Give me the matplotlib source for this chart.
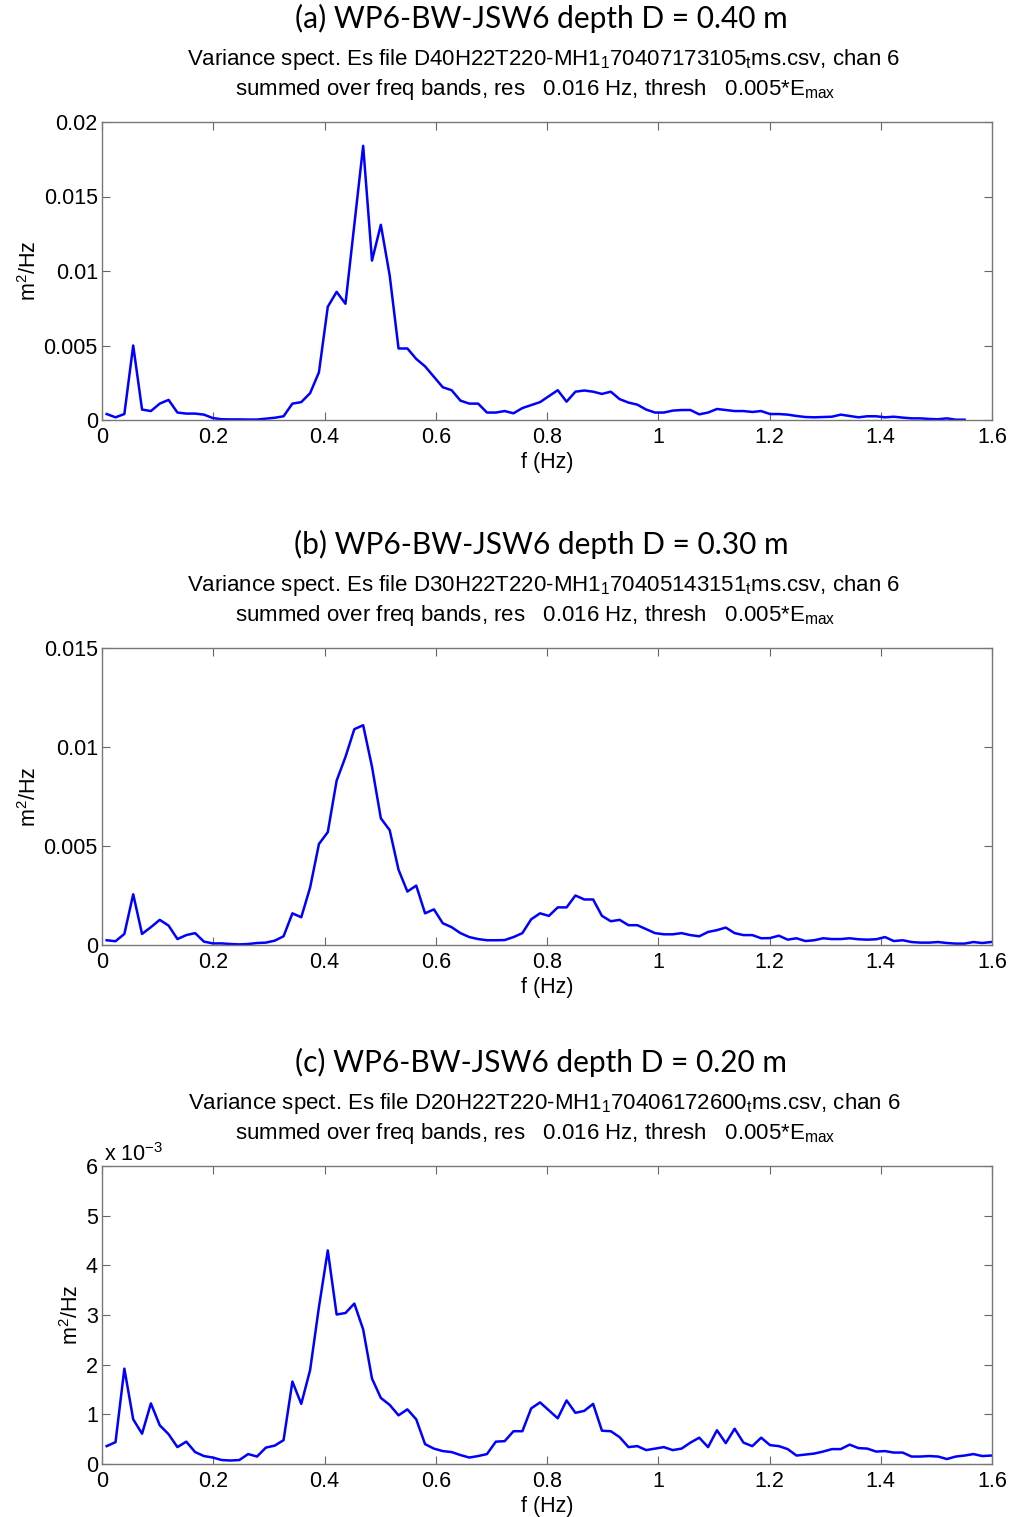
import numpy as np
import matplotlib
matplotlib.use("Agg")
import matplotlib.pyplot as plt
from matplotlib.ticker import FuncFormatter

plt.rcParams['font.family'] = ['Liberation Sans', 'DejaVu Sans']
plt.rcParams['mathtext.fontset'] = 'custom'
plt.rcParams['mathtext.rm'] = 'Liberation Sans'
plt.rcParams['mathtext.it'] = 'Liberation Sans'

# ---- data ----
f0 = 0.0084   # first band centre, Hz
df = 0.0159   # band spacing, Hz

# (a) D = 0.40 m, m^2/Hz
spec_a = [0.0004, 0.00018, 0.0004, 0.0050, 0.0007, 0.0006, 0.0011, 0.00135, 0.0005, 0.00043,
          0.00043, 0.00036, 0.00013, 0.00005, 0.00004, 0.00004, 0.00003, 0.00003, 0.00009, 0.00015,
          0.00025, 0.0011, 0.0012, 0.0018, 0.0032, 0.0076, 0.0086, 0.0078, 0.0131, 0.0184,
          0.0107, 0.0131, 0.0097, 0.0048, 0.0048, 0.0041, 0.0036, 0.0029, 0.0022, 0.0020,
          0.0013, 0.0011, 0.0011, 0.0005, 0.0005, 0.0006, 0.00045, 0.0008, 0.0010, 0.0012,
          0.0016, 0.0020, 0.00123, 0.0019, 0.00198, 0.0019, 0.00175, 0.0019, 0.0014, 0.00117,
          0.00103, 0.0007, 0.0005, 0.0005, 0.00063, 0.00067, 0.00067, 0.00038, 0.0005, 0.00074,
          0.00067, 0.0006, 0.0006, 0.00054, 0.0006, 0.0004, 0.0004, 0.00036, 0.00027, 0.0002,
          0.00018, 0.0002, 0.00022, 0.00036, 0.00027, 0.00018, 0.00025, 0.00025, 0.00018, 0.00022,
          0.00016, 0.00011, 0.00011, 0.00007, 0.00005, 0.00011, 0.00002, 0.00002]

# (b) D = 0.30 m, m^2/Hz
spec_b = [0.00024, 0.00019, 0.00056, 0.00256, 0.00056, 0.0009, 0.00127, 0.00098, 0.0003, 0.0005,
          0.0006, 0.00017, 0.00008, 0.00008, 0.00005, 0.00003, 0.00005, 0.0001, 0.00012, 0.00022,
          0.00044, 0.0016, 0.0014, 0.0029, 0.0051, 0.0057, 0.0083, 0.0095, 0.0109, 0.0111,
          0.0090, 0.0064, 0.0058, 0.0038, 0.0027, 0.0030, 0.0016, 0.0018, 0.0011, 0.0009,
          0.0006, 0.0004, 0.0003, 0.00024, 0.00024, 0.00025, 0.0004, 0.0006, 0.0013, 0.0016,
          0.00147, 0.0019, 0.0019, 0.0025, 0.0023, 0.0023, 0.00147, 0.0012, 0.00127, 0.0010,
          0.0010, 0.0008, 0.0006, 0.00054, 0.00054, 0.0006, 0.0005, 0.00044, 0.00066, 0.00075,
          0.00088, 0.0006, 0.0005, 0.0005, 0.00034, 0.00035, 0.00047, 0.00027, 0.00034, 0.0002,
          0.00024, 0.00034, 0.0003, 0.0003, 0.00034, 0.00029, 0.00027, 0.00029, 0.0004, 0.0002,
          0.00024, 0.00015, 0.00012, 0.00012, 0.00015, 0.0001, 0.00007, 0.00007, 0.00015, 0.0001,
          0.00015]

# (c) D = 0.20 m, units of 1e-3 m^2/Hz
spec_c = [0.36, 0.44, 1.92, 0.90, 0.61, 1.22, 0.78, 0.60, 0.34, 0.45,
          0.24, 0.16, 0.13, 0.08, 0.07, 0.08, 0.20, 0.15, 0.33, 0.37,
          0.48, 1.66, 1.21, 1.89, 3.16, 4.30, 3.01, 3.04, 3.23, 2.71,
          1.72, 1.33, 1.19, 0.98, 1.10, 0.90, 0.40, 0.31, 0.26, 0.24,
          0.18, 0.13, 0.16, 0.20, 0.45, 0.46, 0.66, 0.66, 1.12, 1.24,
          1.08, 0.92, 1.28, 1.03, 1.07, 1.21, 0.67, 0.66, 0.54, 0.34,
          0.36, 0.28, 0.31, 0.34, 0.28, 0.31, 0.43, 0.53, 0.34, 0.68,
          0.42, 0.71, 0.43, 0.36, 0.53, 0.38, 0.36, 0.30, 0.17, 0.19,
          0.21, 0.25, 0.30, 0.30, 0.39, 0.32, 0.31, 0.25, 0.26, 0.23,
          0.23, 0.15, 0.15, 0.16, 0.15, 0.10, 0.15, 0.17, 0.20, 0.16,
          0.17]

titles = ["(a) WP6-BW-JSW6 depth D = 0.40 m",
          "(b) WP6-BW-JSW6 depth D = 0.30 m",
          "(c) WP6-BW-JSW6 depth D = 0.20 m"]
files = ["D40H22T220-MH1$_\\mathregular{1}$70407173105$_\\mathregular{t}$ms.csv",
         "D30H22T220-MH1$_\\mathregular{1}$70405143151$_\\mathregular{t}$ms.csv",
         "D20H22T220-MH1$_\\mathregular{1}$70406172600$_\\mathregular{t}$ms.csv"]
line2 = "summed over freq bands, res   0.016 Hz, thresh   0.005*E$_\\mathregular{max}$"

ymax = [0.02, 0.015, 0.006]
yticks = [[0, 0.005, 0.01, 0.015, 0.02],
          [0, 0.005, 0.01, 0.015],
          [0, 0.001, 0.002, 0.003, 0.004, 0.005, 0.006]]
xticks = [0, 0.2, 0.4, 0.6, 0.8, 1.0, 1.2, 1.4, 1.6]

W, H = 1013, 1517
fig = plt.figure(figsize=(W / 100, H / 100), dpi=100)

# axes boxes in pixels: (top, bottom)
boxes = [(122, 420), (648, 945), (1166, 1464)]
left, right = 102, 992
fs = 15.5

series = [np.array(spec_a), np.array(spec_b), np.array(spec_c) * 1e-3]

for i in range(3):
    top, bot = boxes[i]
    ax = fig.add_axes([left / W, 1 - bot / H, (right - left) / W, (bot - top) / H])
    y = series[i]
    x = f0 + df * np.arange(len(y))
    ax.plot(x, y, color='#0000ff', lw=1.8)
    ax.set_xlim(0, 1.6)
    ax.set_ylim(0, ymax[i])
    ax.set_xticks(xticks)
    ax.set_xticklabels(['0', '0.2', '0.4', '0.6', '0.8', '1', '1.2', '1.4', '1.6'])
    ax.set_yticks(yticks[i])
    if i == 2:
        ax.yaxis.set_major_formatter(FuncFormatter(lambda v, p: '%g' % round(v * 1e3, 6)))
        ax.text(0.002, 1.0, 'x 10$^{\\mathregular{-3}}$', transform=ax.transAxes,
                fontsize=fs, ha='left', va='bottom')
    else:
        ax.yaxis.set_major_formatter(FuncFormatter(lambda v, p: '%g' % v))
    ax.tick_params(direction='in', length=6, width=0.8, color='#666666',
                   top=True, right=True, labelsize=fs, labelcolor='black')
    ax.tick_params(axis='x', pad=5)
    ax.tick_params(axis='y', pad=3)
    for s in ax.spines.values():
        s.set_color('#777777')
        s.set_linewidth(1.0)
    ax.set_xlabel('f (Hz)', fontsize=fs, labelpad=3)
    ax.set_ylabel('m$^{\\mathregular{2}}$/Hz', fontsize=fs, labelpad=2)

    cx = (left + right) / 2 / W
    fig.text(cx - 0.006, 1 - (top - 104) / H, titles[i], family=['Lato', 'DejaVu Sans'],
             fontsize=21.5, ha='center', va='center')
    fig.text(cx - 0.003, 1 - (top - 63) / H,
             'Variance spect. Es file ' + files[i] + ', chan 6',
             fontsize=16, ha='center', va='center')
    fig.text(cx - 0.012, 1 - (top - 32) / H, line2,
             fontsize=16, ha='center', va='center')

fig.savefig('out.png', dpi=100)
